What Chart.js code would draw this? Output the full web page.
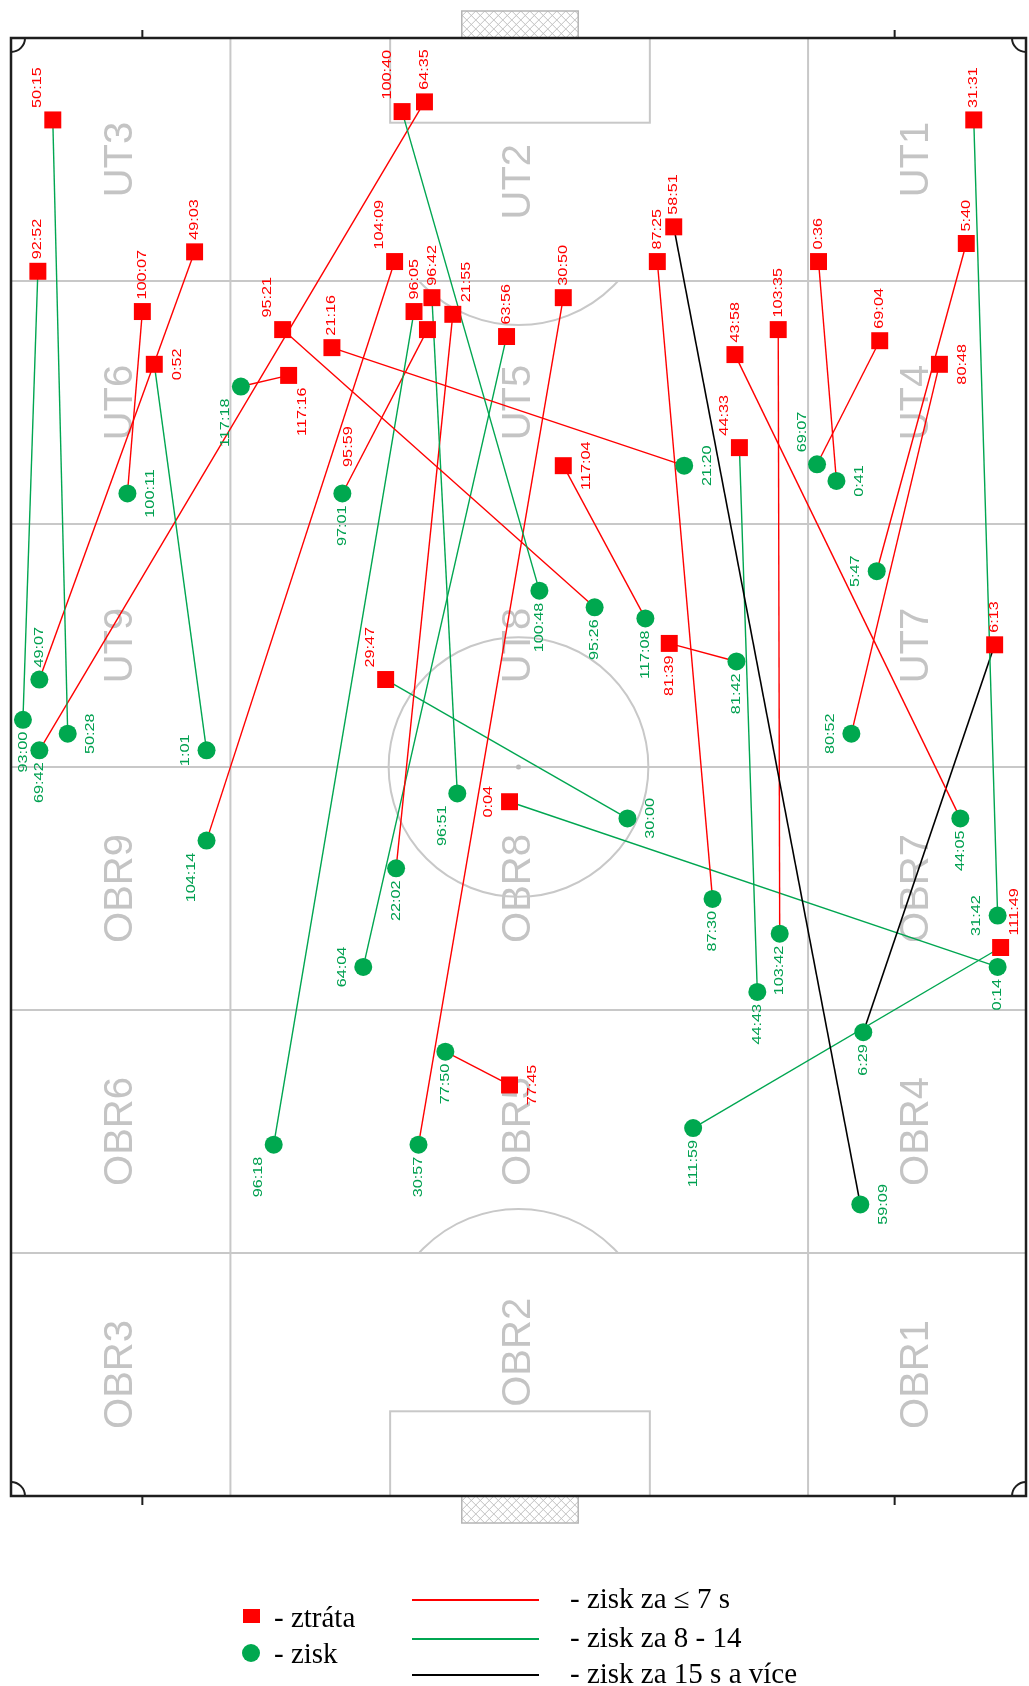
<!DOCTYPE html>
<html lang="cs">
<head>
  <meta charset="UTF-8" />
  <title>Ztráty a zisky míče</title>
  <script src="https://cdn.jsdelivr.net/npm/chart.js"></script>
  <style>
    body {
      margin: 0;
      background: #ffffff;
    }
    #wrap {
      position: relative;
      width: 1029px;
      height: 1686px;
    }
    #pitch {
      position: absolute;
      left: 0;
      top: 0;
    }
    .lg {
      position: absolute;
      font-family: 'Liberation Serif', 'Times New Roman', serif;
      font-size: 29px;
      line-height: 30px;
      height: 30px;
      color: #000;
      white-space: nowrap;
    }
    .lg-mark { position: absolute; }
    .lg-line { position: absolute; height: 2px; }
  </style>
</head>
<body>
<div id="wrap">
  <canvas id="pitch" width="1029" height="1686"></canvas>
</div>

<script>
  // losses (red squares) - time stamp and position on the pitch in metres
  const lossTime = ['50:15','92:52','49:03','100:07','0:52','100:40','64:35','104:09','95:21','21:16','117:16',
    '96:05','96:42','95:59','21:55','63:56','30:50','87:25','58:51','43:58','103:35','0:36','69:04','5:40',
    '31:31','80:48','117:04','44:33','81:39','6:13','29:47','0:04','111:49','77:45'];
  const lossX = [2.8, 1.8, 12.3, 8.8, 9.6, 26.2, 27.7, 25.7, 18.2, 21.5, 18.6,
    27.0, 28.2, 27.9, 29.6, 33.2, 37.0, 43.3, 44.4, 48.5, 51.4, 54.1, 58.2, 64.0,
    64.5, 62.2, 37.0, 48.8, 44.1, 65.9, 25.1, 33.4, 66.3, 33.4];
  const lossY = [5.9, 16.8, 15.4, 19.7, 23.5, 5.3, 4.6, 16.1, 21.0, 22.3, 24.3,
    19.7, 18.7, 21.0, 19.9, 21.5, 18.7, 16.1, 13.6, 22.8, 21.0, 16.1, 21.8, 14.8,
    5.9, 23.5, 30.8, 29.5, 43.6, 43.7, 46.2, 55.0, 65.5, 75.4];

  // regains (green circles), same order as the losses
  const gainTime = ['50:28','93:00','49:07','100:11','1:01','100:48','69:42','104:14','95:26','21:20','117:18',
    '96:18','96:51','97:01','22:02','64:04','30:57','87:30','59:09','44:05','103:42','0:41','69:07','5:47',
    '31:42','80:52','117:08','44:43','81:42','6:29','30:00','0:14','111:59','77:50'];
  const gainX = [3.8, 0.8, 1.9, 7.8, 13.1, 35.4, 1.9, 13.1, 39.1, 45.1, 15.4,
    17.6, 29.9, 22.2, 25.8, 23.6, 27.3, 47.0, 56.9, 63.6, 51.5, 55.3, 54.0, 58.0,
    66.1, 56.3, 42.5, 50.0, 48.6, 57.1, 41.3, 66.1, 45.7, 29.1];
  const gainY = [50.1, 49.1, 46.2, 32.8, 51.3, 39.8, 51.3, 57.8, 41.0, 30.8, 25.1,
    79.7, 54.4, 32.8, 59.8, 66.9, 79.7, 62.0, 84.0, 56.2, 64.5, 31.9, 30.7, 38.4,
    63.2, 50.1, 41.8, 68.7, 44.9, 71.6, 56.2, 66.9, 78.5, 73.0];

  // 0 = regained within 7 s, 1 = 8 - 14 s, 2 = 15 s and more
  const regainClass = [1, 1, 0, 0, 1, 1, 0, 0, 0, 0, 0,
    1, 1, 0, 0, 1, 0, 0, 2, 0, 0, 0, 0, 0,
    1, 0, 0, 1, 0, 2, 1, 1, 1, 0];

  const markerNames = ['ztráta', 'zisk'];
  const lineNames = ['zisk za ≤ 7 s', 'zisk za 8 - 14', 'zisk za 15 s a více'];

  const zoneNames = [
    ['UT3', 'UT2', 'UT1'],
    ['UT6', 'UT5', 'UT4'],
    ['UT9', 'UT8', 'UT7'],
    ['OBR9', 'OBR8', 'OBR7'],
    ['OBR6', 'OBR5', 'OBR4'],
    ['OBR3', 'OBR2', 'OBR1']
  ];
  const zoneCols = [0, 14.7, 53.4, 68];
  const zoneRows = [0, 17.5, 35, 52.5, 70, 87.5, 105];
  const axisTicks = [8.8, 59.2];

  // where each time label sits next to its marker
  const lossLabelSide = ['nw','n','n','n','e','nw','n','nw','nw','n','se',
    'n','n',[-79, 117],'ne','n','n','n','n','n','n','n','n','n',
    'n','e','e','nw','s','n','nw','w','ne','e'];
  const gainLabelSide = ['e','s','n','e','w','s','s','sw','s','e','sw',
    'sw','sw','s','s','w','s','s','e','s','s','e','nw','w',
    'w','w','s','s','s','s','e','s','s','s'];

  const classColors = ['#ff0000', '#00a651', '#000000'];
  const lossColor = '#ff0000';
  const gainColor = '#00a84f';

  const datasets = [];
  datasets.push({
    label: markerNames[0],
    data: lossX.map((v, i) => ({ x: v, y: lossY[i] })),
    pointStyle: 'rect',
    pointRadius: 12,
    backgroundColor: lossColor,
    borderWidth: 0,
    clip: false,
    order: 0
  });
  datasets.push({
    label: markerNames[1],
    data: gainX.map((v, i) => ({ x: v, y: gainY[i] })),
    pointStyle: 'circle',
    pointRadius: 9,
    backgroundColor: gainColor,
    borderWidth: 0,
    clip: false,
    order: 0
  });
  regainClass.forEach((c, i) => {
    datasets.push({
      label: lineNames[c],
      data: [{ x: lossX[i], y: lossY[i] }, { x: gainX[i], y: gainY[i] }],
      showLine: true,
      borderColor: classColors[c],
      borderWidth: c === 2 ? 1.6 : 1.4,
      pointRadius: 0,
      clip: false,
      order: 1
    });
  });

  function vLabel(ctx, text, x, y, side, color) {
    ctx.font = '13px "Liberation Sans", Arial, sans-serif';
    const stretch = 1.25;
    const w = ctx.measureText(text).width * stretch;
    let cx = x, cy = y;
    if (Array.isArray(side)) {
      cx += side[0];
      cy += side[1];
    } else {
      if (side.includes('n')) cy = y - 12 - w / 2;
      if (side.includes('s')) cy = y + 12 + w / 2;
      if (side === 'e') cx = x + 23;
      if (side === 'w') cx = x - 21;
      if (side === 'ne' || side === 'se') cx = x + 14;
      if (side === 'nw' || side === 'sw') cx = x - 15;
    }
    ctx.save();
    ctx.translate(cx, cy);
    ctx.rotate(-Math.PI / 2);
    ctx.scale(stretch, 1);
    ctx.fillStyle = color;
    ctx.textAlign = 'center';
    ctx.textBaseline = 'middle';
    ctx.fillText(text, 0, 0);
    ctx.restore();
  }

  const pitchPlugin = {
    id: 'pitch',
    beforeDatasetsDraw(chart) {
      const { ctx, chartArea: a, scales: { x, y } } = chart;
      const px = v => x.getPixelForValue(v);
      const py = v => y.getPixelForValue(v);
      const m = (a.right - a.left) / 68;
      ctx.save();

      // zone names
      ctx.fillStyle = '#c4c4c4';
      ctx.font = '40px "Liberation Sans", Arial, sans-serif';
      ctx.textAlign = 'center';
      ctx.textBaseline = 'middle';
      zoneNames.forEach((row, r) => {
        row.forEach((name, c) => {
          let yc = (zoneRows[r] + zoneRows[r + 1]) / 2;
          if (c === 1 && r === 0) yc += 1.6;
          if (c === 1 && r === 5) yc -= 1.6;
          const xc = (px(zoneCols[c]) + px(zoneCols[c + 1])) / 2;
          ctx.save();
          ctx.translate(xc, py(yc));
          ctx.rotate(-Math.PI / 2);
          ctx.fillText(name, 0, 0);
          ctx.restore();
        });
      });

      // zone grid
      ctx.strokeStyle = '#c8c8c8';
      ctx.lineWidth = 2;
      ctx.beginPath();
      zoneCols.slice(1, -1).forEach(c => { ctx.moveTo(px(c), a.top); ctx.lineTo(px(c), a.bottom); });
      zoneRows.slice(1, -1).forEach(r => { ctx.moveTo(a.left, py(r)); ctx.lineTo(a.right, py(r)); });
      ctx.stroke();

      // goal areas, centre circle, penalty arcs
      ctx.strokeRect(px(25.4), py(0), px(42.8) - px(25.4), py(6.1) - py(0));
      ctx.strokeRect(px(25.4), py(98.9), px(42.8) - px(25.4), py(105) - py(98.9));
      ctx.beginPath();
      ctx.arc(px(34), py(52.5), 8.7 * m, 0, Math.PI * 2);
      ctx.stroke();
      ctx.fillStyle = '#b8b8b8';
      ctx.beginPath();
      ctx.arc(px(34), py(52.5), 2.5, 0, Math.PI * 2);
      ctx.fill();

      ctx.save();
      ctx.beginPath();
      ctx.rect(a.left, py(17.5) + 1, a.right - a.left, py(35) - py(17.5));
      ctx.clip();
      ctx.beginPath();
      ctx.arc(px(34), py(11), 9 * m, 0, Math.PI * 2);
      ctx.stroke();
      ctx.restore();
      ctx.save();
      ctx.beginPath();
      ctx.rect(a.left, py(70), a.right - a.left, py(87.5) - py(70) - 1);
      ctx.clip();
      ctx.beginPath();
      ctx.arc(px(34), py(94), 9 * m, 0, Math.PI * 2);
      ctx.stroke();
      ctx.restore();

      // goal nets
      [[a.top - 27, a.top], [a.bottom, a.bottom + 27]].forEach(([t, b]) => {
        const l = px(30.2), r = px(38);
        ctx.save();
        ctx.beginPath();
        ctx.rect(l, t, r - l, b - t);
        ctx.clip();
        ctx.strokeStyle = '#c0c0c0';
        ctx.lineWidth = 1;
        ctx.beginPath();
        for (let k = l - 40; k < r + 40; k += 9) {
          ctx.moveTo(k, t); ctx.lineTo(k + (b - t), b);
          ctx.moveTo(k, b); ctx.lineTo(k + (b - t), t);
        }
        ctx.stroke();
        ctx.restore();
        ctx.strokeStyle = '#b4b4b4';
        ctx.lineWidth = 1.5;
        ctx.strokeRect(l, t, r - l, b - t);
      });

      // outline, corner arcs, ticks
      ctx.strokeStyle = '#1e1e1e';
      ctx.lineWidth = 2.5;
      ctx.strokeRect(a.left, a.top, a.right - a.left, a.bottom - a.top);
      ctx.lineWidth = 2;
      const cr = 14;
      ctx.beginPath();
      ctx.arc(a.left, a.top, cr, 0, Math.PI / 2);
      ctx.stroke();
      ctx.beginPath();
      ctx.arc(a.right, a.top, cr, Math.PI / 2, Math.PI);
      ctx.stroke();
      ctx.beginPath();
      ctx.arc(a.left, a.bottom, cr, -Math.PI / 2, 0);
      ctx.stroke();
      ctx.beginPath();
      ctx.arc(a.right, a.bottom, cr, Math.PI, Math.PI * 1.5);
      ctx.stroke();
      ctx.beginPath();
      axisTicks.forEach(t => {
        ctx.moveTo(px(t), a.top - 8); ctx.lineTo(px(t), a.top);
        ctx.moveTo(px(t), a.bottom); ctx.lineTo(px(t), a.bottom + 9);
      });
      ctx.stroke();
      ctx.restore();
    },
    afterDatasetsDraw(chart) {
      const { ctx, scales: { x, y } } = chart;
      lossTime.forEach((t, i) => {
        vLabel(ctx, t, x.getPixelForValue(lossX[i]), y.getPixelForValue(lossY[i]), lossLabelSide[i], lossColor);
      });
      gainTime.forEach((t, i) => {
        vLabel(ctx, t, x.getPixelForValue(gainX[i]), y.getPixelForValue(gainY[i]), gainLabelSide[i], '#00a050');
      });
    }
  };

  new Chart(document.getElementById('pitch'), {
    type: 'scatter',
    data: { datasets: datasets },
    options: {
      responsive: false,
      animation: false,
      devicePixelRatio: 1,
      layout: { autoPadding: false, padding: { left: 11, right: 3, top: 38, bottom: 190 } },
      scales: {
        x: { type: 'linear', min: 0, max: 68, display: false },
        y: { type: 'linear', min: 0, max: 105, reverse: true, display: false }
      },
      plugins: {
        legend: { display: false },
        tooltip: { enabled: false }
      }
    },
    plugins: [pitchPlugin]
  });

  // legend below the pitch
  const wrap = document.getElementById('wrap');
  function addText(txt, left, centerY) {
    const d = document.createElement('div');
    d.className = 'lg';
    d.style.left = left + 'px';
    d.style.top = (centerY - 15) + 'px';
    d.textContent = '- ' + txt;
    wrap.appendChild(d);
  }
  const sq = document.createElement('div');
  sq.className = 'lg-mark';
  sq.style.cssText = 'left:243px;top:1609px;width:17px;height:14px;background:' + lossColor;
  wrap.appendChild(sq);
  const dot = document.createElement('div');
  dot.className = 'lg-mark';
  dot.style.cssText = 'left:242px;top:1644px;width:18px;height:18px;border-radius:50%;background:' + gainColor;
  wrap.appendChild(dot);
  addText(markerNames[0], 274, 1617);
  addText(markerNames[1], 274, 1653);

  const lineY = [1600, 1639, 1675];
  const textY = [1598, 1637, 1673];
  lineNames.forEach((n, i) => {
    const ln = document.createElement('div');
    ln.className = 'lg-line';
    ln.style.cssText = 'left:412px;width:127px;top:' + (lineY[i] - 1) + 'px;background:' + classColors[i];
    wrap.appendChild(ln);
    addText(n, 570, textY[i]);
  });
</script>
</body>
</html>
